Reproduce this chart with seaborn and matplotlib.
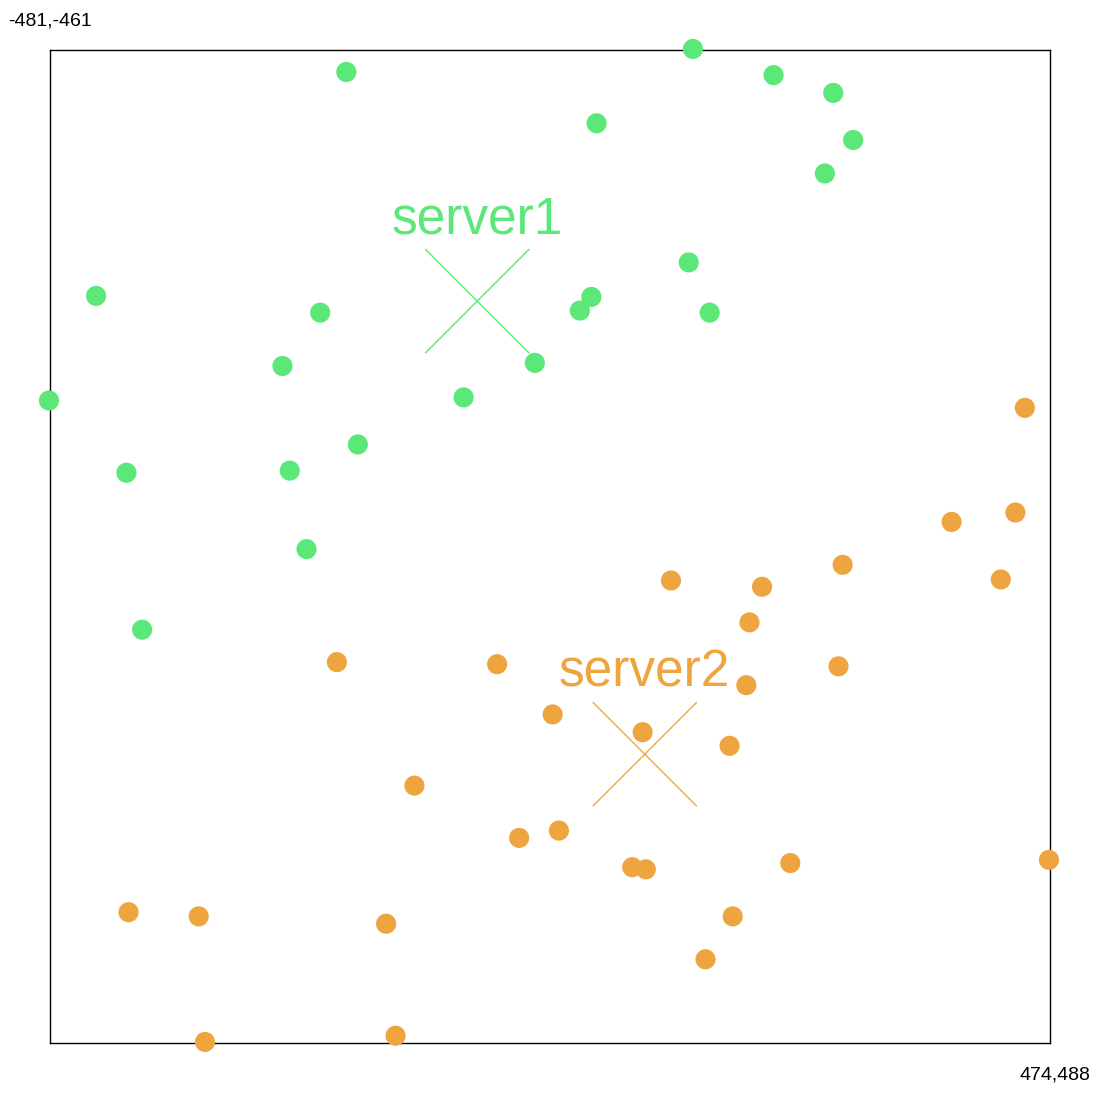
import matplotlib
matplotlib.use("Agg")
import matplotlib.pyplot as plt
import numpy as np
import pandas as pd
import seaborn as sns

# clients of server1 (green) and server2 (orange), map units
server1_x = [-198, 133, 210, 267, 286, 41, 259, 129, 36, 25, 149, -437, -223,
             -259, -18, -86, -482, -187, -408, -252, -236, -393]
server1_y = [-440, -462, -437, -420, -375, -391, -343, -258, -225, -212, -210,
             -226, -210, -159, -162, -129, -126, -84, -57, -59, 16, 93]

server2_x = [450, 380, 441, 427, 276, 112, 199, 187, 272, -207, -54, 184, -1,
             85, 168, -133, -33, 5, 75, 88, 226, 473, -406, -339, -160, 171,
             145, -333, -151]
server2_y = [-119, -10, -19, 45, 31, 46, 52, 86, 128, 124, 126, 146, 174, 191,
             204, 242, 292, 285, 320, 322, 316, 313, 363, 367, 374, 367, 408,
             487, 481]

server_names = ["server1", "server2"]
server_x = [-73, 87]
server_y = [-221, 212]

x_min, y_min = -481, -461
x_max, y_max = 474, 488

colors = {"server1": "#5ce878", "server2": "#eea540"}

df = pd.DataFrame({
    "x": server1_x + server2_x,
    "y": server1_y + server2_y,
    "server": ["server1"] * len(server1_x) + ["server2"] * len(server2_x),
})
servers = pd.DataFrame({"x": server_x, "y": server_y, "server": server_names})

sns.set_style("white")
plt.rcParams["font.family"] = ["Liberation Sans", "DejaVu Sans"]

fig = plt.figure(figsize=(11, 10.93), dpi=100)
ax = fig.add_axes([50 / 1100, 50 / 1093, 1000 / 1100, 993 / 1093])

sns.scatterplot(data=df, x="x", y="y", hue="server", palette=colors,
                s=210, linewidth=0, legend=False, ax=ax, clip_on=False,
                zorder=3)
sns.scatterplot(data=servers, x="x", y="y", hue="server", palette=colors,
                marker="x", s=75 ** 2, linewidth=1, legend=False, ax=ax,
                zorder=2)

for name, sx, sy in zip(server_names, server_x, server_y):
    ax.annotate(name, (sx, sy), xytext=(0, 41), textcoords="offset points",
                ha="center", va="bottom", fontsize=37, color=colors[name])

ax.set_xlim(x_min, x_max)
ax.set_ylim(y_max, y_min)
ax.set_xticks([])
ax.set_yticks([])
ax.set_xlabel("")
ax.set_ylabel("")
for sp in ax.spines.values():
    sp.set_color("black")
    sp.set_linewidth(1)

fig.text(8 / 1100, 1 - 12 / 1093, f"{x_min},{y_min}", ha="left", va="top",
         fontsize=14, color="black")
fig.text(1090 / 1100, 1 - 1066 / 1093, f"{x_max},{y_max}", ha="right",
         va="top", fontsize=14, color="black")

fig.savefig("out.png", dpi=100)
